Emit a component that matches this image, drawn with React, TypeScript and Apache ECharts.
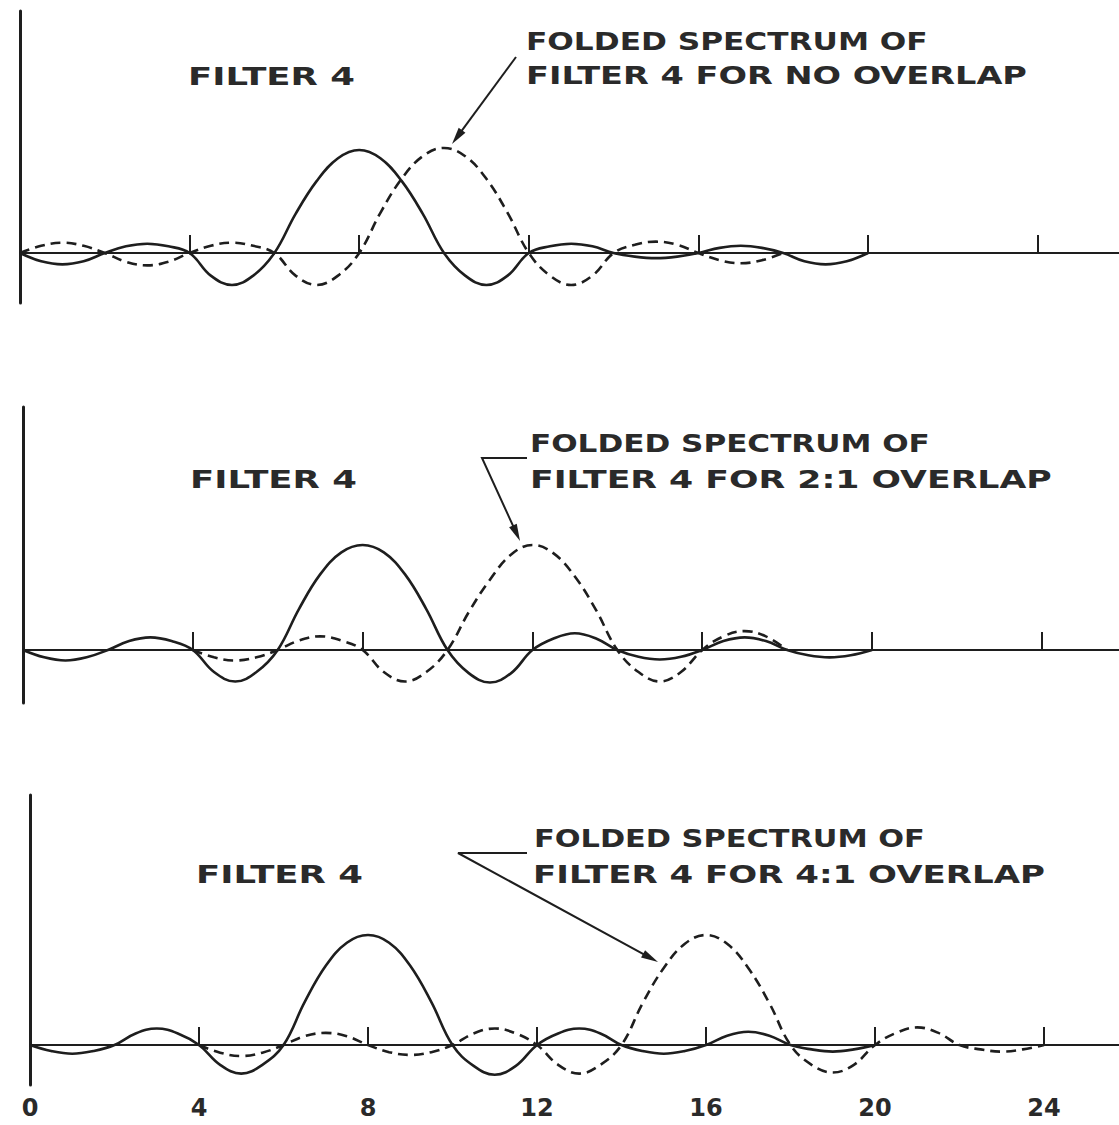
import React, { useEffect, useRef } from "react";
import * as echarts from "echarts";

// ---------- data (half-unit steps) ----------
const xTicks = [4, 8, 12, 16, 20, 24];
const xTickLabels = [0, 4, 8, 12, 16, 20, 24];

const solidX = [
  0, 0.5, 1, 1.5, 2, 2.5, 3, 3.5, 4, 4.5, 5, 5.5, 6, 6.5, 7, 7.5, 8, 8.5, 9, 9.5,
  10, 10.5, 11, 11.5, 12, 12.5, 13, 13.5, 14, 14.5, 15, 15.5, 16, 16.5, 17, 17.5, 18, 18.5, 19, 19.5, 20,
];
const solidTop = [
  0, -0.08, -0.11, -0.08, 0, 0.065, 0.09, 0.065, 0, -0.22, -0.31, -0.22, 0, 0.38, 0.7, 0.92, 1.0, 0.92, 0.7, 0.38,
  0, -0.22, -0.31, -0.22, 0, 0.065, 0.09, 0.065, 0, -0.035, -0.05, -0.035, 0, 0.05, 0.07, 0.05, 0, -0.08, -0.11, -0.08, 0,
];
const solidMid = [
  0, -0.07, -0.1, -0.07, 0, 0.085, 0.12, 0.085, 0, -0.21, -0.3, -0.21, 0, 0.39, 0.72, 0.93, 1.0, 0.93, 0.72, 0.39,
  0, -0.22, -0.31, -0.22, 0, 0.11, 0.16, 0.11, 0, -0.065, -0.09, -0.065, 0, 0.085, 0.12, 0.085, 0, -0.05, -0.07, -0.05, 0,
];
const solidBot = [
  0, -0.055, -0.08, -0.055, 0, 0.105, 0.15, 0.105, 0, -0.18, -0.26, -0.18, 0, 0.39, 0.72, 0.93, 1.0, 0.93, 0.72, 0.39,
  0, -0.19, -0.27, -0.19, 0, 0.105, 0.15, 0.105, 0, -0.055, -0.08, -0.055, 0, 0.085, 0.12, 0.085, 0, -0.04, -0.06, -0.04, 0,
];

const dashedTopX = [
  0, 0.5, 1, 1.5, 2, 2.5, 3, 3.5, 4, 4.5, 5, 5.5, 6, 6.5, 7, 7.5, 8, 8.5, 9, 9.5,
  10, 10.5, 11, 11.5, 12, 12.5, 13, 13.5, 14, 14.5, 15, 15.5, 16, 16.5, 17, 17.5, 18,
];
const dashedTop = [
  0, 0.07, 0.1, 0.07, 0, -0.085, -0.12, -0.085, 0, 0.07, 0.1, 0.07, 0, -0.22, -0.31, -0.22, 0, 0.39, 0.72, 0.94,
  1.02, 0.94, 0.72, 0.39, 0, -0.22, -0.31, -0.22, 0, 0.08, 0.11, 0.08, 0, -0.07, -0.1, -0.07, 0,
];

const dashedMidX = [
  4, 4.5, 5, 5.5, 6, 6.5, 7, 7.5, 8, 8.5, 9, 9.5, 10, 10.5, 11, 11.5, 12, 12.5, 13, 13.5,
  14, 14.5, 15, 15.5, 16, 16.5, 17, 17.5, 18,
];
const dashedMid = [
  0, -0.07, -0.1, -0.07, 0, 0.09, 0.13, 0.09, 0, -0.21, -0.3, -0.21, 0, 0.36, 0.67, 0.91, 1.0, 0.92, 0.7, 0.38,
  0, -0.21, -0.3, -0.21, 0, 0.13, 0.18, 0.13, 0,
];

const dashedBotX = [
  4, 4.5, 5, 5.5, 6, 6.5, 7, 7.5, 8, 8.5, 9, 9.5, 10, 10.5, 11, 11.5, 12, 12.5, 13, 13.5,
  14, 14.5, 15, 15.5, 16, 16.5, 17, 17.5, 18, 18.5, 19, 19.5, 20, 20.5, 21, 21.5, 22, 22.5, 23, 23.5, 24,
];
const dashedBot = [
  0, -0.07, -0.1, -0.07, 0, 0.08, 0.11, 0.08, 0, -0.065, -0.09, -0.065, 0, 0.105, 0.15, 0.105, 0, -0.18, -0.26, -0.18,
  0, 0.38, 0.7, 0.92, 1.0, 0.92, 0.7, 0.38, 0, -0.18, -0.25, -0.18, 0, 0.11, 0.16, 0.11, 0, -0.04, -0.06, -0.04, 0,
];

const filterLabel = "FILTER 4";
const foldedLine1 = "FOLDED SPECTRUM OF";
const foldedLine2 = ["FILTER 4 FOR NO OVERLAP", "FILTER 4 FOR 2:1 OVERLAP", "FILTER 4 FOR 4:1 OVERLAP"];

// ---------- layout ----------
const INK = "#1e1e1e";
const TEXT = "#2a2a2a";
const FONT = 'bold 25px "DejaVu Sans"';
const X_MAX = 26;

const panels = [
  {
    left: 20, top: 11, bottom: 303, base: 253, unit: 103, px: 42.4,
    solid: solidTop, dashX: dashedTopX, dash: dashedTop,
    filter: { x: 188, y: 76, w: 167 },
    l1: { x: 526, y: 42, w: 402 },
    l2: { x: 526, y: 76, w: 501 },
    arrow: [[516, 57], [452, 144]],
  },
  {
    left: 23, top: 407, bottom: 703, base: 650, unit: 105, px: 42.45,
    solid: solidMid, dashX: dashedMidX, dash: dashedMid,
    filter: { x: 190, y: 479, w: 167 },
    l1: { x: 530, y: 444, w: 400 },
    l2: { x: 530, y: 479, w: 522 },
    arrow: [[527, 458], [482, 458], [520, 541]],
  },
  {
    left: 30, top: 795, bottom: 1085, base: 1045, unit: 110, px: 42.25,
    solid: solidBot, dashX: dashedBotX, dash: dashedBot,
    filter: { x: 196, y: 874, w: 167 },
    l1: { x: 534, y: 838, w: 391 },
    l2: { x: 533, y: 874, w: 512 },
    arrow: [[527, 853], [458, 853], [658, 962]],
  },
];

let measureCtx: CanvasRenderingContext2D | null = null;
function textWidth(t: string): number {
  if (!measureCtx) measureCtx = document.createElement("canvas").getContext("2d");
  if (!measureCtx) return t.length * 15;
  measureCtx.font = FONT;
  return measureCtx.measureText(t).width;
}

function label(text: string, pos: { x: number; y: number; w: number }) {
  const sx = pos.w / textWidth(text);
  return {
    type: "text",
    x: pos.x,
    y: pos.y,
    scaleX: sx,
    silent: true,
    style: {
      text,
      x: 0,
      y: 0,
      font: FONT,
      fill: TEXT,
      align: "left",
      verticalAlign: "middle",
      textAlign: "left",
      textVerticalAlign: "middle",
    },
  };
}

function arrow(points: number[][]) {
  const n = points.length;
  const [tx, ty] = points[n - 1];
  const [qx, qy] = points[n - 2];
  const dx = tx - qx;
  const dy = ty - qy;
  const len = Math.hypot(dx, dy);
  const ux = dx / len;
  const uy = dy / len;
  const L = 17;
  const W = 4.2;
  const bx = tx - ux * L;
  const by = ty - uy * L;
  const head = [
    [tx, ty],
    [bx - uy * W, by + ux * W],
    [bx + uy * W, by - ux * W],
  ];
  const shaft = points.slice(0, n - 1).concat([[tx - ux * L * 0.7, ty - uy * L * 0.7]]);
  return [
    { type: "polyline", silent: true, shape: { points: shaft }, style: { stroke: INK, lineWidth: 2, fill: null } },
    { type: "polygon", silent: true, shape: { points: head }, style: { fill: INK } },
  ];
}

function buildOption() {
  const grid: any[] = [];
  const xAxis: any[] = [];
  const yAxis: any[] = [];
  const series: any[] = [];
  const elements: any[] = [];

  panels.forEach((p, i) => {
    grid.push({
      left: p.left,
      top: p.top,
      width: X_MAX * p.px,
      height: p.bottom - p.top,
      containLabel: false,
      outerBoundsMode: "none",
    });
    xAxis.push({
      type: "value",
      gridIndex: i,
      min: 0,
      max: X_MAX,
      axisLine: { show: true, onZero: true, lineStyle: { color: INK, width: 2 } },
      axisTick: { show: true, inside: true, length: 18, customValues: xTicks, lineStyle: { color: INK, width: 2 } },
      axisLabel: {
        show: i === panels.length - 1,
        customValues: xTickLabels,
        margin: 11,
        color: TEXT,
        fontFamily: "DejaVu Sans",
        fontWeight: "bold",
        fontSize: 24,
      },
      splitLine: { show: false },
    });
    yAxis.push({
      type: "value",
      gridIndex: i,
      min: -(p.bottom - p.base) / p.unit,
      max: (p.base - p.top) / p.unit,
      axisLine: { show: true, onZero: false, lineStyle: { color: INK, width: 3 } },
      axisTick: { show: false },
      axisLabel: { show: false },
      splitLine: { show: false },
    });
    series.push({
      type: "line",
      name: "filter " + i,
      xAxisIndex: i,
      yAxisIndex: i,
      data: solidX.map((x, k) => [x, p.solid[k]]),
      smooth: 0.4,
      showSymbol: false,
      silent: true,
      lineStyle: { color: INK, width: 2.6, type: "solid" },
      z: 3,
    });
    series.push({
      type: "line",
      name: "folded " + i,
      xAxisIndex: i,
      yAxisIndex: i,
      data: p.dashX.map((x, k) => [x, p.dash[k]]),
      smooth: 0.4,
      showSymbol: false,
      silent: true,
      lineStyle: { color: INK, width: 2.6, type: [10, 6] },
      z: 2,
    });
    elements.push(label(filterLabel, p.filter));
    elements.push(label(foldedLine1, p.l1));
    elements.push(label(foldedLine2[i], p.l2));
    arrow(p.arrow).forEach((e) => elements.push(e));
  });

  return {
    animation: false,
    backgroundColor: "#ffffff",
    grid,
    xAxis,
    yAxis,
    series,
    graphic: { elements },
  };
}

export default function App() {
  const ref = useRef<HTMLDivElement>(null);
  useEffect(() => {
    if (!ref.current) return;
    const chart = echarts.init(ref.current, null, { renderer: "svg" });
    chart.setOption(buildOption() as any);
    return () => chart.dispose();
  }, []);
  return (
    <div
      ref={ref}
      style={{ position: "absolute", left: 0, top: 0, width: 1119, height: 1125, background: "#fff" }}
    />
  );
}
